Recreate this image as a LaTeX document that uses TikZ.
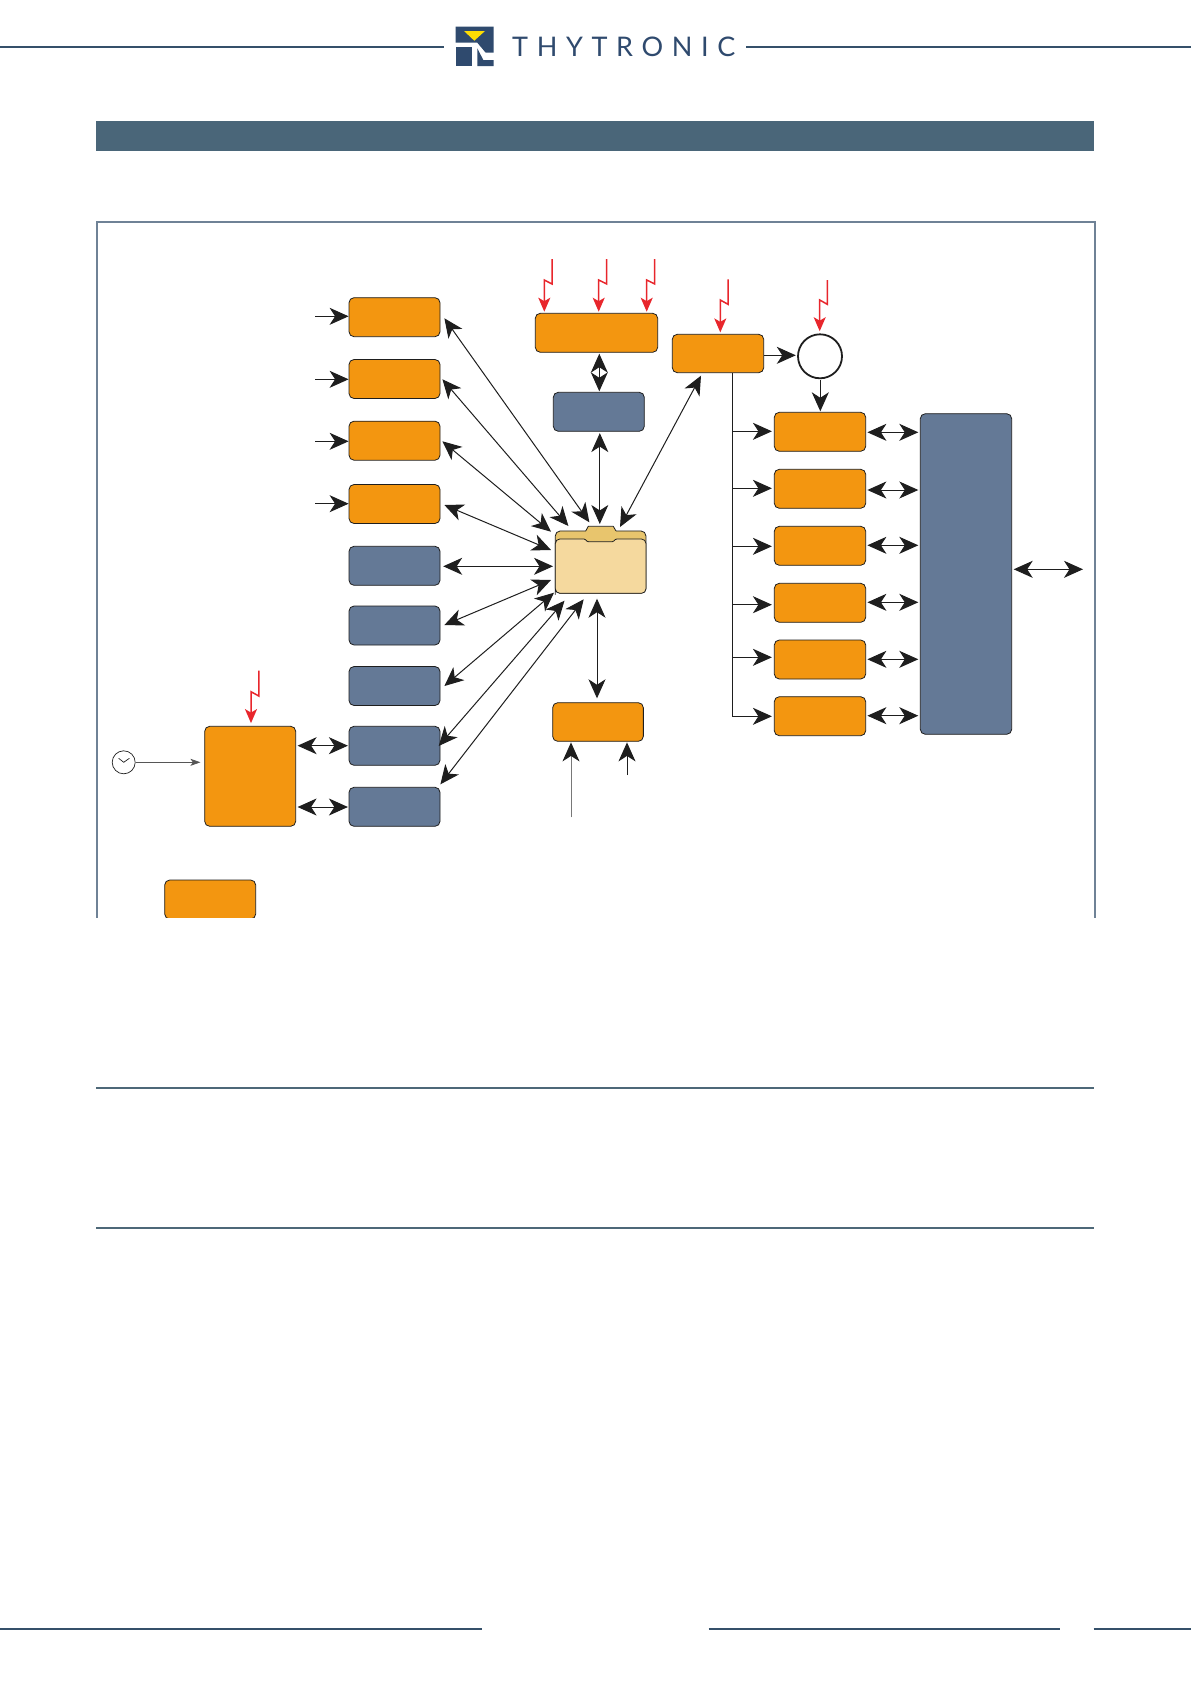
\documentclass[tikz,border=0pt]{standalone}
\usepackage{fontspec}
\setmainfont{Lato}
\newfontfamily\logofont[LetterSpace=32]{Lato}
\usetikzlibrary{arrows.meta,calc}
\definecolor{orng}{HTML}{F39610}
\definecolor{blu}{HTML}{647996}
\definecolor{navy}{HTML}{2F4A6E}
\definecolor{linec}{HTML}{35506A}
\definecolor{rulec}{HTML}{4E6878}
\definecolor{bannerc}{HTML}{4A6679}
\definecolor{framec}{HTML}{6F8296}
\definecolor{boltc}{HTML}{E8262C}
\definecolor{ink}{HTML}{1E1E1E}
\definecolor{folderb}{HTML}{E8C56D}
\definecolor{folderf}{HTML}{F5D99E}
\tikzset{
  boxbase/.style={rectangle,rounded corners=5pt,draw=ink,line width=.8pt,inner sep=0pt,
                  minimum width=91pt,minimum height=39pt},
  obox/.style={boxbase,fill=orng},
  bbox/.style={boxbase,fill=blu},
  bighead/.tip={Stealth[length=19pt,width=17pt,inset=5.5pt]},
  arr/.style={draw=ink,line width=1pt,-bighead},
  dbl/.style={draw=ink,line width=1pt,bighead-bighead},
  thinarr/.style={draw=ink!75,line width=.8pt,-{Stealth[length=10pt,width=7pt,inset=2.5pt]}},
  bolt/.style={draw=boltc,line width=1.5pt,-{Stealth[length=14pt,width=12pt,inset=3.5pt]}},
  hrule/.style={line width=2pt,draw=rulec},
  hline/.style={line width=2pt,draw=linec},
}
\begin{document}
\begin{tikzpicture}[x=1pt,y=-1pt]
\useasboundingbox (0,0) rectangle (1191,1684);
\fill[white] (0,0) rectangle (1191,1684);

% header
\draw[hline] (0,46.7) -- (444,46.7);
\draw[hline] (746,46.7) -- (1191,46.7);
\fill[navy] (455.7,26.7) -- (493.7,26.7) -- (493.7,52.7) -- (485.7,52.7) -- (477.3,42.7) -- (455.7,42.7) -- cycle;
\fill[navy] (455.7,47.3) rectangle (472.3,66);
\fill[navy] (477.3,48.3) -- (483.3,60) -- (493.7,60) -- (493.7,66) -- (477.3,66) -- cycle;
\fill[yellow!80!orange] (464,31) -- (485,31) -- (474.3,40.7) -- cycle;
\node[anchor=base west,inner sep=0pt,text=navy,font=\logofont\fontsize{27}{27}\selectfont] (logo) at (512,56.3) {THYTRONIC};

% banner
\fill[bannerc] (96,121) rectangle (1094,151);

% frame (open at the bottom)
\draw[framec,line width=2pt] (96.8,917.5) -- (96.8,221.7) -- (1095,221.7) -- (1095,917.5);

% left column
\node[obox] (b1) at (394.5,317.2) {};
\node[obox] (b2) at (394.5,379) {};
\node[obox] (b3) at (394.5,440.7) {};
\node[obox] (b4) at (394.5,504) {};
\node[bbox] (b5) at (394.5,565.8) {};
\node[bbox] (b6) at (394.5,625.5) {};
\node[bbox] (b7) at (394.5,686) {};
\node[bbox] (b8) at (394.5,745.8) {};
\node[bbox] (b9) at (394.5,806.8) {};
\node[obox,minimum height=100pt] (L) at (250.2,776.3) {};
\begin{scope}
  \clip (150,870) rectangle (270,917.7);
  \node[obox] (leg) at (210.2,899.5) {};
\end{scope}
\node[circle,draw=ink,line width=.7pt,minimum size=23pt,inner sep=0pt] (clk) at (123.7,762.3) {};
\draw[ink,line width=.7pt] ([shift={(-5,-4)}]clk.center) -- (clk.center) -- ([shift={(5.7,-4)}]clk.center);

% centre
\node[obox,minimum width=122.4pt] (T) at (596.5,332.8) {};
\node[bbox] (U) at (598.8,411.8) {};
\node[obox,minimum width=91.4pt,minimum height=38.4pt] (P) at (718,353.5) {};
\node[obox,minimum width=90.7pt,minimum height=38.6pt] (B) at (598,722) {};
\node[circle,draw=ink,line width=1.8pt,fill=white,minimum size=44pt,inner sep=0pt] (C) at (820,356.3) {};

% folder
\node[rectangle,rounded corners=5pt,draw=ink,line width=.8pt,fill=folderb,inner sep=0pt,
      minimum width=90.7pt,minimum height=62.3pt] (folder) at (600.6,562.1) {};
\fill[folderb] (586,530) rectangle (615.7,540);
\filldraw[draw=ink,fill=folderb,line width=.8pt,line join=round]
  (585.7,531) -- (588.3,526.3) -- (613.3,526.3) -- (616,531);
\draw[ink,line width=.8pt,fill=folderf,line join=round,rounded corners=4.5pt]
  (555.3,590) -- (555.3,539) [rounded corners=1pt] -- (585,539) -- (587.3,541.7) -- (613.3,541.7) -- (615.7,539) [rounded corners=4.5pt] -- (646,539) -- (646,593.3) -- (555.3,593.3) -- cycle;

% right column
\node[obox,minimum width=91.4pt] (r1) at (820,431.8) {};
\node[obox,minimum width=91.4pt] (r2) at (820,488.8) {};
\node[obox,minimum width=91.4pt] (r3) at (820,545.8) {};
\node[obox,minimum width=91.4pt] (r4) at (820,602.8) {};
\node[obox,minimum width=91.4pt] (r5) at (820,659.5) {};
\node[obox,minimum width=91.4pt] (r6) at (820,716.2) {};
\node[bbox,minimum width=91.4pt,minimum height=320.6pt] (bus) at (966,574) {};

% input arrows of the left column
\coordinate (i1) at (315,316.3);
\coordinate (i2) at (315,379.3);
\coordinate (i3) at (315,441.3);
\coordinate (i4) at (315,503.7);
\foreach \k in {1,2,3,4} {
  \draw[arr] (i\k) -- (i\k -| b\k.west);
}

% fan to the folder
\draw[dbl] ([shift={(4,1.1)}]b1.east) -- ([shift={(-11.2,-39.8)}]folder.center);
\draw[dbl] ([shift={(2,.3)}]b2.east) -- ([shift={(-32.2,-36.1)}]folder.center);
\draw[dbl] ([shift={(2,.6)}]b3.east) -- ([shift={(-49.6,-30.4)}]folder.center);
\draw[dbl] ([shift={(4,1)}]b4.east) -- ([shift={(-49.6,-12.1)}]folder.center);
\draw[dbl] ([shift={(2.8,.5)}]b5.east) -- ([shift={(-47.6,4.2)}]folder.center);
\draw[dbl] ([shift={(4,-.5)}]b6.east) -- ([shift={(-49.6,17.9)}]folder.center);
\draw[dbl] ([shift={(4,0)}]b7.east) -- ([shift={(-46.6,30.6)}]folder.center);
\draw[dbl] ([shift={(-1.7,.2)}]b8.east) -- ([shift={(-36.1,38.6)}]folder.center);
\draw[dbl] ([shift={(0,-22.5)}]b9.east) -- ([shift={(-16.9,37.2)}]folder.center);
\draw[dbl] ([shift={(1,1.4)}]U.south) -- ([shift={(-.8,-38.1)}]folder.center);
\draw[dbl] ([shift={(-17,22.2)}]P.center) -- ([shift={(19.4,-35.1)}]folder.center);
\draw[dbl] ([shift={(-1,-4)}]B.north) -- ([shift={(-3.6,36.6)}]folder.center);
\draw[dbl] ([shift={(2.8,1)}]T.south) -- ([shift={(.5,-.6)}]U.north);

% left block
\draw[dbl] ([shift={(1.5,-30.6)}]L.east) -- ([shift={(-.7,-.1)}]b8.west);
\draw[dbl] ([shift={(1.5,30.7)}]L.east) -- ([shift={(-.7,.2)}]b9.west);
\draw[thinarr] (clk.east) -- ([shift={(-3.85,-14)}]L.west);

% inputs of the bottom box
\coordinate (ba) at (571,817.3);
\coordinate (bb) at (627,775);
\draw[draw=ink!60,line width=1pt,-{Stealth[length=19pt,width=17pt,inset=5.5pt,ink]}] (ba) -- ([shift={(-27,.7)}]B.south);
\draw[arr] (bb) -- ([shift={(29,.7)}]B.south);

% right part
\draw[arr] ([shift={(0,1.8)}]P.east) -- ([shift={(-1.3,-1)}]C.west);
\draw[arr] ([shift={(.3,.4)}]C.south) -- ([shift={(.3,-.6)}]r1.north);
\coordinate (trunk) at ([shift={(14.7,0)}]P.south);
\draw[ink,line width=1pt] (trunk) -- ++(0,343.6);
\foreach \n/\d in {r1/-.5,r2/-.5,r3/.5,r4/1.9,r5/-2.2,r6/.1} {
  \coordinate (t\n) at ([shift={(-2,\d)}]\n.west);
  \draw[arr] (trunk |- t\n) -- (t\n);
}
\foreach \n/\d in {r1/.5,r2/1.2,r3/-.5,r4/-.5,r5/-.2,r6/-.5} {
  \coordinate (a\n) at ([shift={(1.3,\d)}]\n.east);
  \draw[dbl,shorten >=1.6pt] (a\n) -- (a\n -| bus.west);
}
\coordinate (ext) at (1083,569.3);
\draw[dbl] ([shift={(1.6,-4.7)}]bus.east) -- (ext);

% lightning
\coordinate (z1) at (552,259);
\coordinate (z2) at (606.7,259);
\coordinate (z3) at (654.7,259);
\coordinate (z4) at (728,279.3);
\coordinate (z5) at (827.3,280);
\coordinate (z6) at (258.8,670.7);
\draw[bolt] (z1) -- ++(0,25) -- ++(-7.7,-4) -- ([shift={(-52.2,-1.2)}]T.north);
\draw[bolt] (z2) -- ++(0,25) -- ++(-8,-4) -- ([shift={(2.2,-1.2)}]T.north);
\draw[bolt] (z3) -- ++(0,25) -- ++(-8,-4) -- ([shift={(50.2,-1.2)}]T.north);
\draw[bolt] (z4) -- ++(0,25) -- ++(-7.7,-4.3) -- ([shift={(2.3,-1.5)}]P.north);
\draw[bolt] (z5) -- ++(0,24.3) -- ++(-7.6,-4.3) -- ([shift={(-.3,-2.2)}]C.north);
\draw[bolt] (z6) -- ++(0,25.3) -- ++(-7.8,-4.3) -- ([shift={(.8,-2.8)}]L.north);

% rules
\draw[hrule] (96,1088) -- (1094,1088);
\draw[hrule] (96,1228) -- (1094,1228);
\draw[hline] (0,1629) -- (482,1629);
\draw[hline] (708.6,1629) -- (1060,1629);
\draw[hline] (1093.7,1629) -- (1191,1629);
\end{tikzpicture}
\end{document}
